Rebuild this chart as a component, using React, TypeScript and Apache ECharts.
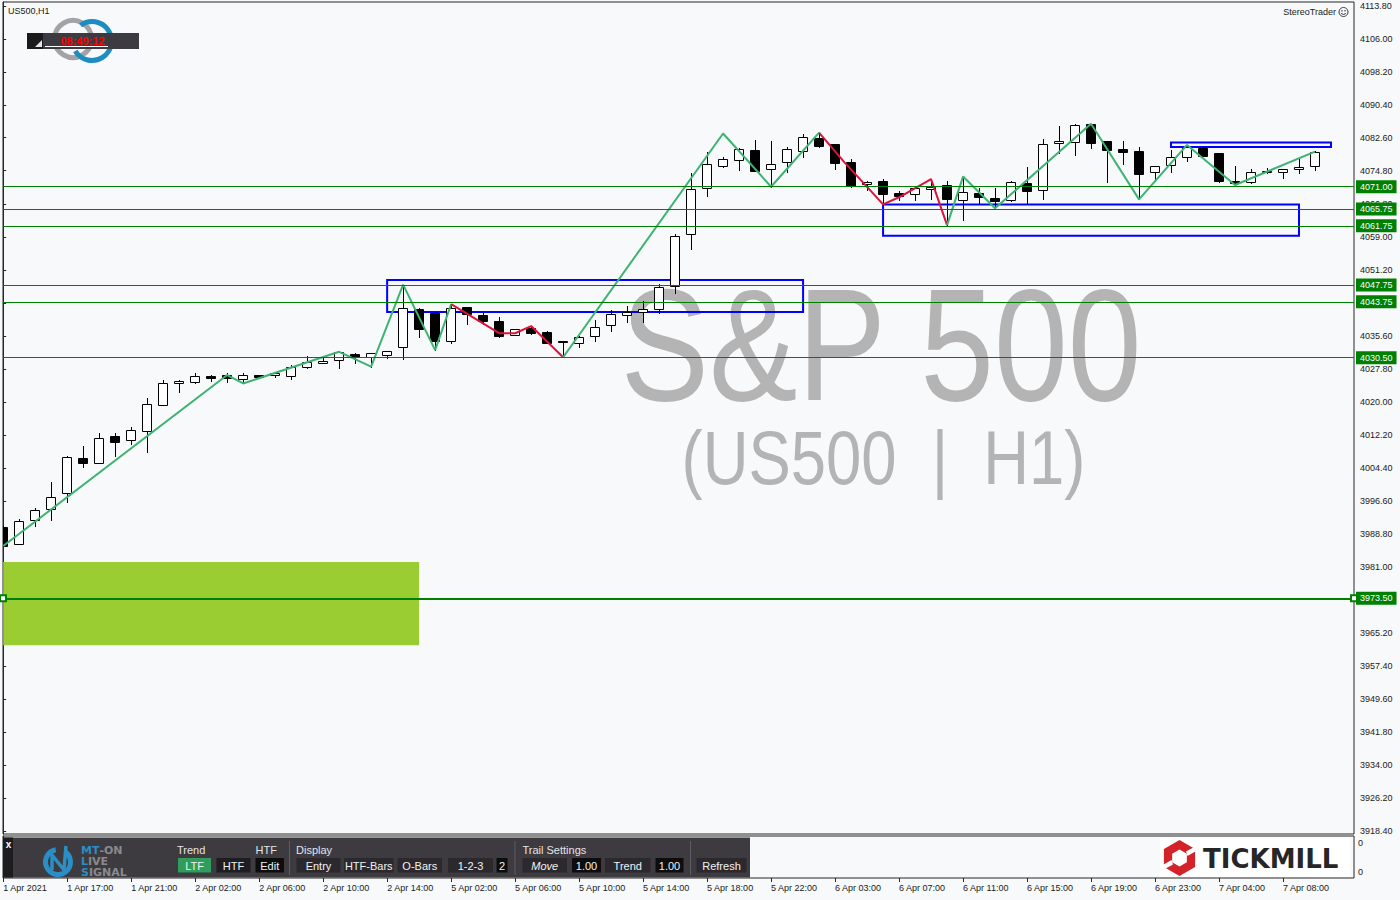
import React, { useEffect, useRef } from "react";
import * as echarts from "echarts";

// ---------- DATA ----------
const openP = [3990.5, 3986.3, 3992.0, 3994.6, 3998.4, 4006.7, 4005.6, 4012.0, 4010.9, 4013.1, 4019.2, 4024.4, 4024.7, 4026.2, 4026.5, 4025.4, 4026.4, 4026.4, 4026.2, 4028.4, 4029.2, 4029.9, 4031.4, 4030.7, 4031.2, 4033.0, 4042.0, 4041.2, 4034.4, 4042.4, 4040.6, 4039.2, 4035.8, 4037.6, 4036.6, 4034.5, 4034.1, 4035.7, 4038.2, 4040.5, 4041.3, 4042.1, 4047.5, 4059.7, 4070.6, 4076.0, 4077.3, 4079.7, 4075.1, 4076.8, 4079.4, 4082.5, 4081.1, 4076.8, 4071.6, 4072.3, 4069.5, 4069.3, 4070.5, 4071.3, 4067.8, 4069.4, 4068.3, 4067.8, 4071.9, 4070.3, 4081.3, 4081.5, 4085.9, 4081.8, 4079.9, 4079.4, 4074.6, 4076.1, 4078.0, 4080.2, 4078.9, 4072.4, 4072.0, 4074.5, 4074.4, 4075.1, 4075.8];
const closeP = [3986.0, 3991.8, 3994.4, 3997.5, 4007.1, 4005.6, 4011.6, 4010.6, 4013.3, 4019.5, 4024.4, 4025.0, 4026.1, 4025.8, 4025.6, 4026.4, 4026.0, 4026.8, 4028.2, 4029.4, 4029.7, 4031.8, 4030.7, 4031.5, 4032.2, 4042.2, 4037.2, 4034.4, 4042.2, 4040.8, 4039.3, 4035.6, 4037.2, 4036.3, 4034.1, 4034.2, 4035.3, 4037.8, 4040.9, 4041.3, 4042.0, 4047.2, 4059.3, 4070.5, 4076.4, 4077.5, 4079.9, 4074.8, 4076.4, 4079.9, 4082.7, 4080.7, 4076.5, 4071.2, 4072.1, 4069.2, 4068.9, 4070.8, 4071.0, 4068.0, 4069.7, 4068.5, 4067.5, 4072.1, 4070.1, 4081.0, 4081.8, 4085.6, 4081.4, 4079.6, 4079.2, 4073.9, 4075.8, 4078.0, 4080.5, 4078.3, 4072.4, 4071.8, 4074.6, 4074.7, 4075.3, 4075.6, 4079.2];
const highP = [3990.6, 3992.3, 3994.8, 4001.0, 4007.2, 4009.6, 4012.7, 4012.7, 4014.1, 4020.9, 4025.2, 4025.2, 4026.8, 4026.4, 4026.8, 4026.8, 4026.5, 4026.8, 4028.8, 4030.9, 4030.4, 4031.9, 4031.5, 4031.6, 4032.2, 4047.8, 4042.2, 4041.3, 4043.1, 4042.5, 4041.2, 4040.1, 4037.3, 4038.0, 4036.9, 4034.5, 4035.7, 4039.4, 4041.8, 4042.7, 4043.9, 4047.9, 4059.8, 4074.2, 4079.2, 4078.0, 4080.1, 4082.1, 4081.8, 4080.5, 4083.6, 4083.6, 4081.1, 4077.6, 4072.4, 4072.8, 4070.0, 4071.2, 4072.8, 4072.4, 4073.4, 4070.6, 4070.8, 4072.4, 4075.7, 4082.2, 4085.4, 4085.9, 4085.9, 4081.8, 4081.8, 4080.3, 4075.9, 4079.7, 4080.9, 4080.4, 4079.0, 4075.9, 4075.2, 4075.5, 4075.3, 4077.7, 4079.4];
const lowP = [3985.9, 3986.3, 3990.7, 3992.1, 3996.4, 4004.7, 4005.6, 4007.3, 4010.1, 4008.2, 4019.2, 4022.4, 4024.6, 4025.1, 4024.8, 4024.4, 4025.8, 4026.0, 4025.5, 4028.0, 4029.2, 4028.0, 4029.3, 4028.4, 4030.5, 4030.1, 4035.5, 4032.3, 4034.1, 4038.4, 4038.4, 4035.5, 4035.8, 4036.2, 4034.1, 4030.6, 4033.0, 4034.5, 4036.9, 4039.0, 4039.0, 4041.0, 4045.9, 4056.3, 4068.8, 4075.7, 4075.0, 4074.8, 4071.0, 4074.6, 4078.0, 4080.3, 4075.3, 4071.0, 4070.2, 4066.7, 4067.9, 4067.9, 4068.0, 4061.9, 4063.1, 4067.1, 4065.9, 4067.6, 4066.8, 4068.1, 4078.9, 4078.5, 4080.1, 4072.2, 4076.4, 4068.0, 4072.4, 4074.6, 4077.2, 4078.3, 4072.0, 4071.2, 4071.8, 4074.2, 4073.1, 4074.3, 4075.0];

const xTickBars = [0, 4, 8, 12, 16, 20, 24, 28, 32, 36, 40, 44, 48, 52, 56, 60, 64, 68, 72, 76, 80];
const xTickLabels = ["1 Apr 2021", "1 Apr 17:00", "1 Apr 21:00", "2 Apr 02:00", "2 Apr 06:00", "2 Apr 10:00", "2 Apr 14:00", "5 Apr 02:00", "5 Apr 06:00", "5 Apr 10:00", "5 Apr 14:00", "5 Apr 18:00", "5 Apr 22:00", "6 Apr 03:00", "6 Apr 07:00", "6 Apr 11:00", "6 Apr 15:00", "6 Apr 19:00", "6 Apr 23:00", "7 Apr 04:00", "7 Apr 08:00"];
const yTickValues = [4113.8, 4106.0, 4098.2, 4090.4, 4082.6, 4074.8, 4066.8, 4059.0, 4051.2, 4043.4, 4035.6, 4027.8, 4020.0, 4012.2, 4004.4, 3996.6, 3988.8, 3981.0, 3973.2, 3965.2, 3957.4, 3949.6, 3941.8, 3934.0, 3926.2, 3918.4];

const levelLines = [4071.0, 4065.75, 4061.75, 4047.75, 4043.75, 4030.5];
const targetLevel = [3973.5];

const zigGreenA = [[0, 3985.9], [14, 4026.4], [15, 4024.4], [21, 4031.9], [23, 4028.4], [25, 4047.8], [27, 4032.3], [28, 4043.2]];
const zigRedA = [[28, 4043.2], [31, 4036.3], [32, 4036.3], [33, 4038.0], [35, 4030.6]];
const zigGreenB = [[35, 4030.6], [45, 4083.6], [48, 4071.0], [51, 4083.8]];
const zigRedB = [[51, 4083.8], [52.6, 4076.7], [53.7, 4072.2], [55, 4066.8], [56, 4068.5], [58, 4072.8], [59, 4061.9]];
const zigGreenC = [[59, 4061.9], [60, 4073.4], [62, 4065.9], [68, 4085.9], [71, 4068.0], [74, 4080.9], [77, 4071.4], [82, 4079.3]];

const zoneRects = [
  [[24, 4048.9], [50, 4041.3]],
  [[55, 4066.8], [81, 4059.4]],
  [[73, 4081.5], [83, 4080.4]],
];
const supportZone = [[0, 3982.1], [26, 3962.4]];

const subZeroTicks = [0.83, 0.14];

// ---------- LAYOUT / STYLE ----------
const FONT = "Liberation Sans, Arial, sans-serif";
const X_MIN = -0.0125;
const X_MAX = 84.4375;
const Y_MIN = 3917.69;
const Y_MAX = 4114.75;

const txt = (text: string, x: number, y: number, o: any = {}) => ({
  type: "text",
  x,
  y,
  scaleX: o.scaleX ?? 1,
  silent: true,
  z: o.z ?? 10,
  style: {
    text,
    x: 0,
    y: 0,
    fill: o.fill ?? "#222",
    fontSize: o.size ?? 9,
    fontFamily: o.family ?? FONT,
    fontWeight: o.weight ?? "normal",
    fontStyle: o.italic ? "italic" : "normal",
    align: o.align ?? "left",
    verticalAlign: "middle",
    lineHeight: o.lineHeight,
    rich: o.rich,
  },
});

const buttons = [
  { t: "LTF", x: 178, w: 33, bg: "#2f9e5c" },
  { t: "HTF", x: 216.5, w: 34, bg: "#1e1d21" },
  { t: "Edit", x: 255.5, w: 28.5, bg: "#0d0d0d" },
  { t: "Entry", x: 296.5, w: 44, bg: "#2b292e" },
  { t: "HTF-Bars", x: 344, w: 49.5, bg: "#2b292e" },
  { t: "O-Bars", x: 397.5, w: 44.5, bg: "#2b292e" },
  { t: "1-2-3", x: 448, w: 45, bg: "#2b292e" },
  { t: "2", x: 496.5, w: 11, bg: "#0d0d0d" },
  { t: "Move", x: 522.5, w: 44.5, bg: "#2b292e", italic: true },
  { t: "1.00", x: 572, w: 29, bg: "#0d0d0d" },
  { t: "Trend", x: 605, w: 45.5, bg: "#2b292e" },
  { t: "1.00", x: 655.5, w: 28, bg: "#0d0d0d" },
  { t: "Refresh", x: 696.5, w: 50, bg: "#2b292e" },
];

function buildGraphics() {
  const els: any[] = [];
  // watermark
  els.push(txt("S&P 500", 881, 345, { z: 0, size: 159, scaleX: 0.834, fill: "#b4b4b4", align: "center" }));
  els.push(txt("(US500  |  H1)", 883.5, 458, { z: 0, size: 76, scaleX: 0.834, fill: "#b4b4b4", align: "center" }));

  // top-left
  els.push(txt("US500,H1", 8, 10.5, { size: 9, fill: "#1a1a1a" }));
  els.push({ type: "circle", silent: true, z: 10, shape: { cx: 73, cy: 39, r: 18.5 }, style: { fill: "none", stroke: "#a3a3a3", lineWidth: 5 } });
  els.push({ type: "arc", silent: true, z: 10, shape: { cx: 92, cy: 41, r: 19.5, startAngle: -2.2, endAngle: 2.6, clockwise: true }, style: { fill: "none", stroke: "#1d8cc0", lineWidth: 5 } });
  els.push({ type: "rect", silent: true, z: 11, shape: { x: 27, y: 33, width: 112, height: 16 }, style: { fill: "#3c3b41" } });
  els.push({ type: "rect", silent: true, z: 11, shape: { x: 27, y: 33, width: 16, height: 16 }, style: { fill: "#1b1b1d" } });
  els.push({ type: "polygon", silent: true, z: 12, shape: { points: [[42, 40], [42, 47], [35, 47]] }, style: { fill: "#e6e6e6" } });
  els.push({ type: "line", silent: true, z: 12, shape: { x1: 45, y1: 46.5, x2: 108, y2: 46.5 }, style: { stroke: "#ffffff", lineWidth: 1 } });
  els.push(txt("08:49:12", 82.5, 40.5, { z: 12, size: 11, weight: "bold", fill: "#ff0000", align: "center" }));

  // top-right
  els.push(txt("StereoTrader", 1336, 11.5, { size: 9, fill: "#1a1a1a", align: "right" }));
  els.push({ type: "circle", silent: true, z: 10, shape: { cx: 1343.5, cy: 12, r: 4.5 }, style: { fill: "none", stroke: "#333", lineWidth: 1 } });
  els.push({ type: "circle", silent: true, z: 10, shape: { cx: 1342, cy: 10.8, r: 0.7 }, style: { fill: "#333" } });
  els.push({ type: "circle", silent: true, z: 10, shape: { cx: 1345, cy: 10.8, r: 0.7 }, style: { fill: "#333" } });
  els.push({ type: "arc", silent: true, z: 10, shape: { cx: 1343.5, cy: 12.2, r: 2.3, startAngle: 0.35, endAngle: Math.PI - 0.35, clockwise: true }, style: { fill: "none", stroke: "#333", lineWidth: 1 } });

  // bottom panel
  els.push({ type: "rect", silent: true, z: 10, shape: { x: 3, y: 837.5, width: 747, height: 40 }, style: { fill: "#3d3a40" } });
  els.push({ type: "rect", silent: true, z: 11, shape: { x: 3, y: 837.5, width: 10, height: 40 }, style: { fill: "#1c1b1e" } });
  els.push(txt("x", 8.5, 844, { z: 12, size: 10, weight: "bold", fill: "#ffffff", align: "center" }));
  els.push({ type: "arc", silent: true, z: 11, shape: { cx: 58, cy: 862, r: 12.5, startAngle: -0.95, endAngle: 2 * Math.PI - 1.75, clockwise: true }, style: { fill: "none", stroke: "#2b8ec4", lineWidth: 5 } });
  els.push({ type: "polyline", silent: true, z: 11, shape: { points: [[52, 870], [52, 855], [64, 870], [66, 846]] }, style: { fill: "none", stroke: "#2b8ec4", lineWidth: 3.5 } });
  const logoRich = {
    b: { fill: "#2b8ec4", fontSize: 11, lineHeight: 10, fontWeight: "bold", fontFamily: "DejaVu Sans" },
    g: { fill: "#8a8a8e", fontSize: 11, lineHeight: 10, fontWeight: "bold", fontFamily: "DejaVu Sans" },
  };
  els.push(txt("{b|MT}{g|-ON}", 81, 850, { z: 12, rich: logoRich, lineHeight: 10 }));
  els.push(txt("{b|L}{g|IVE}", 81, 861, { z: 12, rich: logoRich, lineHeight: 10 }));
  els.push(txt("{b|S}{g|IGNAL}", 81, 872, { z: 12, rich: logoRich, lineHeight: 10 }));

  els.push(txt("Trend", 177, 849.5, { z: 12, size: 11, fill: "#e4e4ea" }));
  els.push(txt("HTF", 255.5, 849.5, { z: 12, size: 11, fill: "#e4e4ea" }));
  els.push(txt("Display", 296, 849.5, { z: 12, size: 11, fill: "#e4e4ea" }));
  els.push(txt("Trail Settings", 522.5, 849.5, { z: 12, size: 11, fill: "#e4e4ea" }));
  for (const sx of [289.5, 515, 690.5]) {
    els.push({ type: "line", silent: true, z: 12, shape: { x1: sx, y1: 841, x2: sx, y2: 875 }, style: { stroke: "#5f5d63", lineWidth: 1 } });
  }
  for (const b of buttons) {
    els.push({ type: "rect", silent: true, z: 12, shape: { x: b.x, y: 858, width: b.w, height: 14.5 }, style: { fill: b.bg } });
    els.push(txt(b.t, b.x + b.w / 2, 865.5, { z: 13, size: 11, fill: "#f2f2f2", align: "center", italic: (b as any).italic }));
  }

  // Tickmill logo
  els.push({ type: "rect", silent: true, z: 10, shape: { x: 1160, y: 838, width: 190, height: 39 }, style: { fill: "#ffffff" } });
  const hex = (cx: number, cy: number, r: number) => {
    const pts: number[][] = [];
    for (let k = 0; k < 6; k++) {
      const a = -Math.PI / 2 + (k * Math.PI) / 3;
      pts.push([cx + r * Math.cos(a), cy + r * Math.sin(a)]);
    }
    return pts;
  };
  els.push({ type: "polygon", silent: true, z: 11, shape: { points: hex(1179.5, 858, 18) }, style: { fill: "#d3222a" } });
  els.push({ type: "polygon", silent: true, z: 12, shape: { points: hex(1179.5, 858, 8.5) }, style: { fill: "#ffffff" } });
  els.push({ type: "polygon", silent: true, z: 12, shape: { points: [[1186, 851.5], [1197, 845.5], [1197, 850.5], [1187.5, 856]] }, style: { fill: "#ffffff" } });
  els.push({ type: "polygon", silent: true, z: 12, shape: { points: [[1173, 864.5], [1162, 870.5], [1162, 865.5], [1171.5, 860]] }, style: { fill: "#ffffff" } });
  els.push(txt("TICKMILL", 1203, 858.5, { z: 12, size: 26, weight: "bold", family: "DejaVu Sans", fill: "#262626" }));
  return els;
}

export default function App() {
  const ref = useRef<HTMLDivElement>(null);
  useEffect(() => {
    if (!ref.current) return;
    const chart = echarts.init(ref.current, undefined, { renderer: "svg" });
    const candleRows = openP.map((o, i) => [i, o, closeP[i], lowP[i], highP[i]]);
    const zig = (data: number[][], color: string) => ({
      type: "line",
      xAxisIndex: 0,
      yAxisIndex: 0,
      data,
      symbol: "none",
      silent: true,
      z: 4,
      lineStyle: { color, width: 2 },
    });
    const tagLabel = {
      show: true,
      position: "end",
      distance: 2,
      formatter: (p: any) => Number(p.value).toFixed(2),
      backgroundColor: "#008000",
      color: "#ffffff",
      padding: [2, 4, 1, 4],
      fontSize: 9,
      lineHeight: 10,
      fontFamily: FONT,
    };
    const option: any = {
      animation: false,
      backgroundColor: "#f8f9fb",
      textStyle: { fontFamily: FONT },
      grid: [
        { left: 3, top: 2, width: 1351, height: 832, show: true, borderColor: "#262626", borderWidth: 1, backgroundColor: "transparent" },
        { left: 3, top: 836, width: 1351, height: 42, show: true, borderColor: "#262626", borderWidth: 1, backgroundColor: "transparent" },
      ],
      xAxis: [
        { type: "value", gridIndex: 0, min: X_MIN, max: X_MAX, show: false },
        {
          type: "value",
          gridIndex: 1,
          min: X_MIN,
          max: X_MAX,
          axisLine: { show: false },
          splitLine: { show: false },
          axisTick: { show: true, customValues: xTickBars, length: 4, lineStyle: { color: "#262626" } },
          axisLabel: {
            customValues: xTickBars,
            formatter: (v: number) => xTickLabels[xTickBars.indexOf(Math.round(v))] ?? "",
            align: "left",
            fontSize: 9,
            color: "#1a1a1a",
            margin: 5,
            fontFamily: FONT,
          },
        },
      ],
      yAxis: [
        {
          type: "value",
          gridIndex: 0,
          position: "right",
          min: Y_MIN,
          max: Y_MAX,
          splitLine: { show: false },
          axisLine: { show: true, lineStyle: { color: "#262626" } },
          axisTick: { show: true, customValues: yTickValues, length: 3, lineStyle: { color: "#262626" } },
          axisLabel: {
            customValues: yTickValues,
            formatter: (v: number) => v.toFixed(2),
            fontSize: 9,
            color: "#1a1a1a",
            margin: 6,
            fontFamily: FONT,
          },
        },
        {
          type: "value",
          gridIndex: 1,
          position: "right",
          min: 0,
          max: 1,
          splitLine: { show: false },
          axisLine: { show: true, lineStyle: { color: "#262626" } },
          axisTick: { show: true, customValues: subZeroTicks, length: 3, lineStyle: { color: "#262626" } },
          axisLabel: { customValues: subZeroTicks, formatter: () => "0", fontSize: 9, color: "#1a1a1a", margin: 4, fontFamily: FONT },
        },
      ],
      series: [
        {
          type: "line",
          name: "support",
          xAxisIndex: 0,
          yAxisIndex: 0,
          data: [],
          silent: true,
          z: 1,
          markArea: {
            silent: true,
            itemStyle: { color: "#9acd32", opacity: 1, borderWidth: 0 },
            data: [[{ coord: supportZone[0] }, { coord: supportZone[1] }]],
          },
        },
        {
          type: "line",
          name: "levels",
          xAxisIndex: 0,
          yAxisIndex: 0,
          data: [],
          silent: true,
          z: 2,
          markLine: {
            silent: true,
            symbol: ["none", "none"],
            lineStyle: { color: "#008000", width: 1, type: "solid" },
            label: tagLabel,
            emphasis: { disabled: true },
            data: levelLines.map((v) => ({ yAxis: v })),
          },
        },
        {
          type: "line",
          name: "target",
          xAxisIndex: 0,
          yAxisIndex: 0,
          data: [],
          silent: true,
          z: 2,
          markLine: {
            silent: true,
            symbol: ["emptyRect", "emptyRect"],
            symbolSize: 6,
            lineStyle: { color: "#008000", width: 2, type: "solid" },
            label: tagLabel,
            emphasis: { disabled: true },
            data: targetLevel.map((v) => ({ yAxis: v })),
          },
        },
        {
          type: "custom",
          name: "US500",
          xAxisIndex: 0,
          yAxisIndex: 0,
          clip: true,
          silent: true,
          z: 3,
          encode: { x: 0, y: [1, 2, 3, 4] },
          data: candleRows,
          renderItem: (_params: any, api: any) => {
            const i = api.value(0);
            const o = api.value(1);
            const c = api.value(2);
            const l = api.value(3);
            const h = api.value(4);
            const pO = api.coord([i, o]);
            const pC = api.coord([i, c]);
            const pH = api.coord([i, h]);
            const pL = api.coord([i, l]);
            const cx = Math.round(pO[0]) + 0.5;
            const yO = Math.round(pO[1]) + 0.5;
            const yC = Math.round(pC[1]) + 0.5;
            const top = Math.min(yO, yC);
            const bot = Math.max(yO, yC);
            const bull = c >= o;
            return {
              type: "group",
              children: [
                { type: "line", shape: { x1: cx, y1: Math.round(pH[1]), x2: cx, y2: Math.round(pL[1]) + 1 }, style: { stroke: "#000", lineWidth: 1 } },
                { type: "rect", shape: { x: cx - 5, y: top, width: 9, height: Math.max(bot - top, 1) }, style: { fill: bull ? "#ffffff" : "#000000", stroke: "#000000", lineWidth: 1 } },
              ],
            };
          },
        },
        zig(zigGreenA, "#3cb371"),
        zig(zigRedA, "#dc143c"),
        zig(zigGreenB, "#3cb371"),
        zig(zigRedB, "#dc143c"),
        zig(zigGreenC, "#3cb371"),
        {
          type: "line",
          name: "zones",
          xAxisIndex: 0,
          yAxisIndex: 0,
          data: [],
          silent: true,
          z: 5,
          markArea: {
            silent: true,
            itemStyle: { color: "rgba(0,0,0,0)", borderColor: "#0000ff", borderWidth: 2, opacity: 1 },
            data: zoneRects.map((r) => [{ coord: r[0] }, { coord: r[1] }]),
          },
        },
      ],
      graphic: { elements: buildGraphics() },
    };
    chart.setOption(option);
    return () => chart.dispose();
  }, []);
  return (
    <div
      ref={ref}
      style={{ position: "fixed", left: 0, top: 0, width: 1400, height: 900, background: "#f8f9fb" }}
    />
  );
}
